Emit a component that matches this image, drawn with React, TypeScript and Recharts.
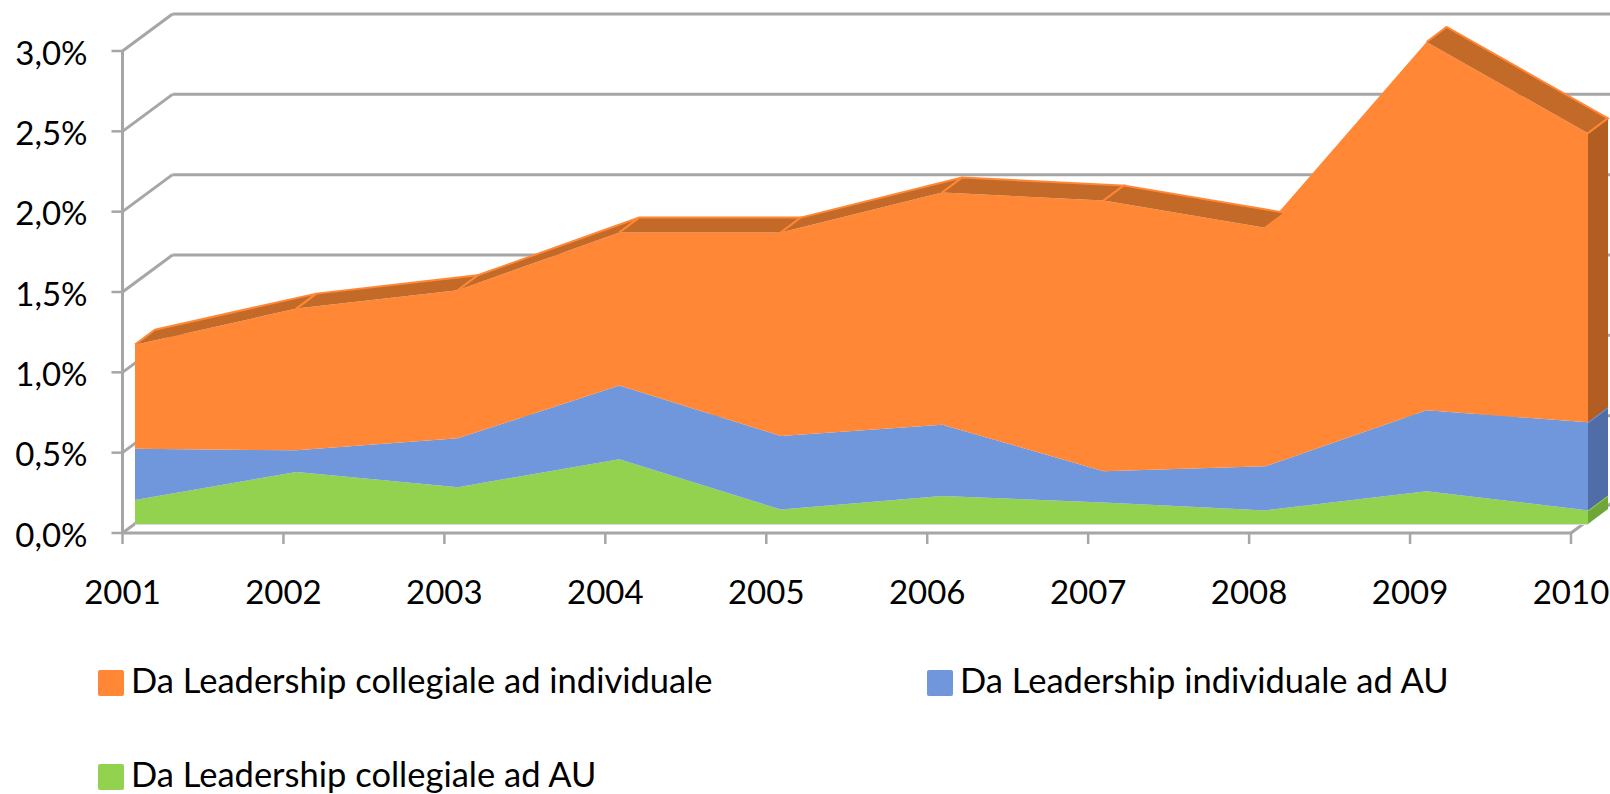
import { Area, AreaChart, Legend, ReferenceDot, ReferenceLine, XAxis, YAxis } from 'recharts';

const years = ['2001', '2002', '2003', '2004', '2005', '2006', '2007', '2008', '2009', '2010'];
const collegialeAu = [0.15, 0.325, 0.23, 0.405, 0.09, 0.175, 0.135, 0.085, 0.205, 0.085];
const individualeAu = [0.32, 0.135, 0.305, 0.46, 0.46, 0.445, 0.195, 0.275, 0.505, 0.55];
const collegialeIndividuale = [0.65, 0.885, 0.925, 0.955, 1.27, 1.45, 1.69, 1.49, 2.3, 1.805];
const yTicks = [0, 0.5, 1, 1.5, 2, 2.5, 3];

const data = years.map((year, i) => ({
  year,
  collegialeAu: collegialeAu[i],
  individualeAu: individualeAu[i],
  collegialeIndividuale: collegialeIndividuale[i],
}));

const ORANGE = '#FF8735';
const BLUE = '#7096DC';
const GREEN = '#93D24E';
const GRID = '#A6A6A6';
const FONT = 'Lato, sans-serif';

const DEPTH_X = 20;
const DEPTH_Y = 15;
const BEHIND_AREAS = 50;

const legendItems = [
  { name: 'Da Leadership collegiale ad individuale', color: ORANGE, left: 98, top: 670 },
  { name: 'Da Leadership individuale ad AU', color: BLUE, left: 927, top: 670 },
  { name: 'Da Leadership collegiale ad AU', color: GREEN, left: 98, top: 764 },
];

// Excel-style extrusion: top faces and the right side wall, hung off the points the Area already computed
function depthDot(color: string, sideColor: string, topColor?: string) {
  return (props: any) => {
    const { index, points } = props;
    const p = points[index];
    const next = points[index + 1];
    const shapes = [];

    if (next && topColor && (next.y - p.y) / (next.x - p.x) > -DEPTH_Y / DEPTH_X) {
      shapes.push(
        <polygon
          key="top"
          points={`${p.x},${p.y} ${p.x + DEPTH_X},${p.y - DEPTH_Y} ${next.x + DEPTH_X},${next.y - DEPTH_Y} ${next.x},${next.y}`}
          fill={topColor}
        />,
        <polyline
          key="rim"
          points={`${p.x},${p.y} ${p.x + DEPTH_X},${p.y - DEPTH_Y} ${next.x + DEPTH_X},${next.y - DEPTH_Y} ${next.x},${next.y}`}
          fill="none"
          stroke={color}
          strokeWidth={2}
        />,
      );
    }

    if (!next) {
      const pxPerUnit = (points[0].y - points[1].y) / (points[1].value[1] - points[0].value[1]);
      const baseY = p.y + (p.value[1] - p.value[0]) * pxPerUnit;
      shapes.push(
        <polygon
          key="side"
          points={`${p.x},${p.y} ${p.x + DEPTH_X},${p.y - DEPTH_Y} ${p.x + DEPTH_X},${baseY - DEPTH_Y} ${p.x},${baseY}`}
          fill={sideColor}
        />,
        <line
          key="edge"
          x1={p.x}
          y1={p.y}
          x2={p.x + DEPTH_X}
          y2={p.y - DEPTH_Y}
          stroke={color}
          strokeWidth={2}
        />,
      );
    }

    return <g key={index}>{shapes}</g>;
  };
}

const wallEdge = (x2: number, y2: number) => (props: any) => (
  <line x1={props.cx} y1={props.cy} x2={props.cx + x2} y2={props.cy + y2} stroke={GRID} strokeWidth={3} />
);

function LegendBlock() {
  return (
    <div style={{ position: 'relative', width: 1610, height: 124, fontFamily: FONT, fontSize: 34.5, color: '#000' }}>
      {legendItems.map((item) => (
        <div key={item.name} style={{ position: 'absolute', left: item.left, top: item.top - 670, whiteSpace: 'nowrap' }}>
          <span
            style={{
              position: 'absolute',
              left: 0,
              top: 0,
              width: 26,
              height: 26,
              borderRadius: 2,
              background: item.color,
            }}
          />
          <span style={{ position: 'absolute', left: 33, top: -8, lineHeight: '35px' }}>{item.name}</span>
        </div>
      ))}
    </div>
  );
}

export default function App() {
  return (
    <div style={{ position: 'absolute', left: 0, top: 0, width: 1610, height: 794, overflow: 'hidden', background: '#fff' }}>
      <AreaChart
        width={1621}
        height={794}
        data={data}
        margin={{ top: 14, right: 0, bottom: 0, left: 0 }}
      >
        <XAxis
          xAxisId="main"
          dataKey="year"
          scale="point"
          padding={{ left: 0, right: 50 }}
          height={261}
          axisLine={false}
          tickLine={{ stroke: GRID, strokeWidth: 2.5 }}
          tickSize={11}
          tickMargin={37}
          interval={0}
          tick={{ fill: '#000', fontSize: 33, fontFamily: FONT }}
        />
        <XAxis xAxisId="back" dataKey="year" scale="point" padding={{ left: 50, right: 0 }} height={0} hide />
        <XAxis xAxisId="front" dataKey="year" scale="point" padding={{ left: 12.5, right: 33 }} height={0} hide />

        <YAxis
          yAxisId="main"
          width={122.5}
          domain={[0, 3]}
          ticks={yTicks}
          padding={{ top: 37, bottom: 0 }}
          axisLine={false}
          tickLine={{ stroke: GRID, strokeWidth: 2.5 }}
          tickSize={11}
          tickMargin={24}
          interval={0}
          tick={{ fill: '#000', fontSize: 33, fontFamily: FONT, dy: 2 }}
          tickFormatter={(v: number) => `${v.toFixed(1).replace('.', ',')}%`}
        />
        <YAxis yAxisId="back" domain={[0, 3]} padding={{ top: 0, bottom: 37 }} width={0} hide />
        <YAxis yAxisId="front" domain={[0, 3]} padding={{ top: 28, bottom: 9 }} width={0} hide />

        {/* unpainted series: an axis with no series gets no scale */}
        <Area
          xAxisId="main"
          yAxisId="main"
          dataKey="collegialeAu"
          fill="none"
          stroke="none"
          dot={false}
          activeDot={false}
          isAnimationActive={false}
        />
        <Area
          xAxisId="back"
          yAxisId="back"
          dataKey="collegialeAu"
          fill="none"
          stroke="none"
          dot={false}
          activeDot={false}
          isAnimationActive={false}
        />

        {yTicks.slice(1).map((v) => (
          <ReferenceLine
            key={v}
            xAxisId="back"
            yAxisId="back"
            segment={[{ x: '2001', y: v }, { x: '2010', y: v }]}
            stroke={GRID}
            strokeWidth={3}
            ifOverflow="visible"
            zIndex={BEHIND_AREAS}
          />
        ))}
        {yTicks.map((v) => (
          <ReferenceDot
            key={v}
            xAxisId="main"
            yAxisId="main"
            x="2001"
            y={v}
            r={0}
            ifOverflow="visible"
            shape={wallEdge(50, -37)}
            zIndex={BEHIND_AREAS}
          />
        ))}
        <ReferenceDot
          xAxisId="main"
          yAxisId="main"
          x="2010"
          y={0}
          r={0}
          ifOverflow="visible"
          shape={wallEdge(50, -37)}
          zIndex={BEHIND_AREAS}
        />
        <ReferenceLine
          xAxisId="main"
          yAxisId="main"
          segment={[{ x: '2001', y: 0 }, { x: '2001', y: 3 }]}
          stroke={GRID}
          strokeWidth={3}
          ifOverflow="visible"
          zIndex={BEHIND_AREAS}
        />
        <ReferenceLine
          xAxisId="main"
          yAxisId="main"
          segment={[{ x: '2001', y: 0 }, { x: '2010', y: 0 }]}
          stroke={GRID}
          strokeWidth={3}
          ifOverflow="visible"
          zIndex={BEHIND_AREAS}
        />
        <ReferenceLine
          xAxisId="front"
          yAxisId="front"
          segment={[{ x: '2001', y: 0 }, { x: '2010', y: 0 }]}
          stroke="#DADADA"
          strokeWidth={2}
          ifOverflow="visible"
          zIndex={BEHIND_AREAS}
        />

        <Area
          xAxisId="front"
          yAxisId="front"
          stackId="all"
          type="linear"
          dataKey="collegialeAu"
          fill={GREEN}
          fillOpacity={1}
          stroke="none"
          dot={depthDot(GREEN, '#6FA63A')}
          activeDot={false}
          isAnimationActive={false}
        />
        <Area
          xAxisId="front"
          yAxisId="front"
          stackId="all"
          type="linear"
          dataKey="individualeAu"
          fill={BLUE}
          fillOpacity={1}
          stroke="none"
          dot={depthDot(BLUE, '#506DA8')}
          activeDot={false}
          isAnimationActive={false}
        />
        <Area
          xAxisId="front"
          yAxisId="front"
          stackId="all"
          type="linear"
          dataKey="collegialeIndividuale"
          fill={ORANGE}
          fillOpacity={1}
          stroke="none"
          dot={depthDot(ORANGE, '#B25E22', '#C46A28')}
          activeDot={false}
          isAnimationActive={false}
        />

        <Legend
          layout="vertical"
          align="center"
          verticalAlign="middle"
          content={<LegendBlock />}
          wrapperStyle={{ left: 0, top: 670, width: 1610 }}
        />
      </AreaChart>
    </div>
  );
}
